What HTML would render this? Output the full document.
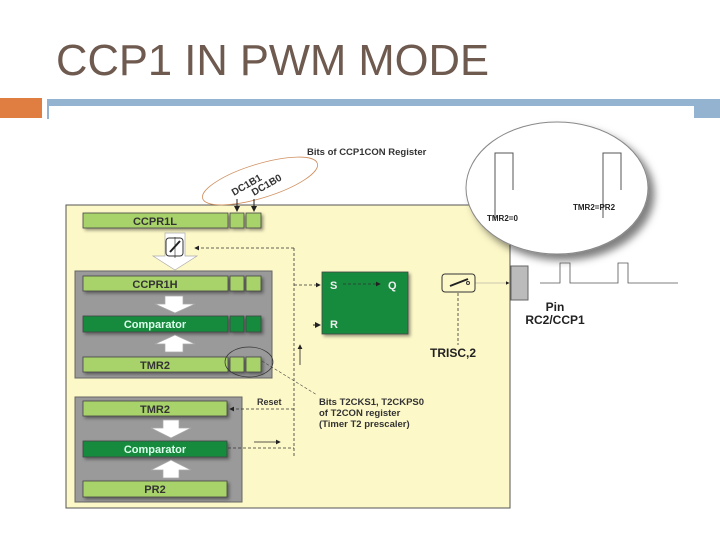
<!DOCTYPE html>
<html><head><style>
body{margin:0;width:720px;height:540px;background:#fff;overflow:hidden;font-family:"Liberation Sans",sans-serif}
</style></head><body>
<svg width="720" height="540" xmlns="http://www.w3.org/2000/svg" font-family="Liberation Sans, sans-serif">
<defs>
<marker id="a" markerWidth="6" markerHeight="6" refX="5" refY="3" orient="auto"><path d="M0,0L6,3L0,6z" fill="#222"/></marker>
<filter id="sh"><feDropShadow dx="2" dy="2" stdDeviation="1.5" flood-color="#000" flood-opacity="0.4"/></filter>
<filter id="sh2"><feDropShadow dx="6" dy="6" stdDeviation="4" flood-color="#000" flood-opacity="0.5"/></filter>
</defs>
<text x="56" y="75" font-size="44" fill="#6f5a50" textLength="433" lengthAdjust="spacingAndGlyphs">CCP1 IN PWM MODE</text>
<rect x="0" y="98" width="42" height="20" fill="#e07e42"/>
<rect x="47" y="99" width="673" height="7" fill="#94b3d0"/>
<rect x="47" y="99" width="2" height="20" fill="#94b3d0"/>
<rect x="694" y="99" width="26" height="19" fill="#94b3d0"/>

<!-- main panel -->
<rect x="66" y="205" width="444" height="303" fill="#fdf8c8" stroke="#555" stroke-width="1"/>
<rect x="75" y="271" width="197" height="107" fill="#9a9a9a" stroke="#666"/>
<rect x="75" y="397" width="167" height="105" fill="#9a9a9a" stroke="#666"/>

<g font-weight="bold" font-size="11" text-anchor="middle">
<g filter="url(#sh)" stroke="#444" stroke-width="0.8">
<rect x="83" y="213" width="145" height="15" fill="#a8d26a"/>
<rect x="230" y="213" width="14" height="15" fill="#a8d26a"/>
<rect x="246" y="213" width="15" height="15" fill="#a8d26a"/>
<rect x="83" y="276" width="145" height="15" fill="#a8d26a"/>
<rect x="230" y="276" width="14" height="15" fill="#a8d26a"/>
<rect x="246" y="276" width="15" height="15" fill="#a8d26a"/>
<rect x="83" y="316" width="145" height="16" fill="#128a3e"/>
<rect x="230" y="316" width="14" height="16" fill="#128a3e"/>
<rect x="246" y="316" width="15" height="16" fill="#128a3e"/>
<rect x="83" y="357" width="145" height="15" fill="#a8d26a"/>
<rect x="230" y="357" width="14" height="15" fill="#a8d26a"/>
<rect x="246" y="357" width="15" height="15" fill="#a8d26a"/>
<rect x="83" y="401" width="144" height="15" fill="#a8d26a"/>
<rect x="83" y="441" width="144" height="16" fill="#128a3e"/>
<rect x="83" y="481" width="144" height="16" fill="#a8d26a"/>
<rect x="322" y="272" width="86" height="62" fill="#128a3e"/>
</g>
<text x="155" y="225" fill="#333">CCPR1L</text>
<text x="155" y="288" fill="#333">CCPR1H</text>
<text x="155" y="328" fill="#dfe">Comparator</text>
<text x="155" y="369" fill="#333">TMR2</text>
<text x="155" y="413" fill="#333">TMR2</text>
<text x="155" y="453" fill="#dfe">Comparator</text>
<text x="155" y="493" fill="#333">PR2</text>
</g>

<!-- white arrows -->
<g fill="#fff" stroke="#aaa" stroke-width="0.7">
<path d="M165,233h20v23h12l-22,14l-22,-14h12z"/>
<path d="M165,296h18v8h12l-20,9l-20,-9h10z"/>
<path d="M165,352h18v-8h12l-20,-9l-20,9h10z"/>
<path d="M163,420h16v8h12l-20,10l-20,-10h12z"/>
<path d="M163,478h16v-8h12l-20,-10l-20,10h12z"/>
</g>
<rect x="166" y="238" width="17" height="18" rx="3" fill="#fff" stroke="#333"/>
<line x1="170" y1="252" x2="180" y2="241" stroke="#222" stroke-width="2"/>
<line x1="175" y1="237" x2="175" y2="258" stroke="#222" stroke-width="0.6"/>

<!-- dashed lines -->
<g stroke="#333" stroke-width="0.8" stroke-dasharray="3,2" fill="none">
<line x1="294" y1="248" x2="195" y2="248" marker-end="url(#a)"/>
<line x1="294" y1="248" x2="294" y2="458"/>
<line x1="294" y1="285" x2="320" y2="285" marker-end="url(#a)"/>
<line x1="343" y1="284" x2="380" y2="284" marker-end="url(#a)"/>
<line x1="294" y1="409" x2="230" y2="409" marker-end="url(#a)"/>
<line x1="228" y1="448" x2="294" y2="448"/>
<line x1="458" y1="288" x2="458" y2="345"/>
</g>
<line x1="300" y1="365" x2="300" y2="345" stroke="#222" stroke-width="0.8" marker-end="url(#a)"/>
<line x1="254" y1="442" x2="280" y2="442" stroke="#222" stroke-width="0.8" marker-end="url(#a)"/>
<line x1="313" y1="325" x2="320" y2="325" stroke="#222" stroke-width="1" marker-end="url(#a)"/>
<line x1="262" y1="361" x2="317" y2="395" stroke="#444" stroke-width="0.6" stroke-dasharray="3,2"/>
<line x1="475" y1="283" x2="509" y2="283" stroke="#999" stroke-width="0.6" marker-end="url(#a)"/>
<ellipse cx="249" cy="362" rx="24" ry="15" fill="none" stroke="#333" stroke-width="0.7"/>

<g font-weight="bold" fill="#eee" font-size="11"><text x="330" y="289">S</text><text x="388" y="289">Q</text><text x="330" y="328">R</text></g>

<rect x="442" y="274" width="33" height="18" rx="3" fill="#fdf8c8" stroke="#333"/>
<line x1="450" y1="286" x2="468" y2="279" stroke="#222" stroke-width="2"/>
<circle cx="468" cy="283" r="1.5" fill="none" stroke="#333"/>
<text x="430" y="357" font-size="12" font-weight="bold" fill="#222">TRISC,2</text>

<text x="257" y="405" font-size="9" font-weight="bold" fill="#333">Reset</text>
<g font-size="9.5" font-weight="bold" fill="#333">
<text x="319" y="405">Bits T2CKS1, T2CKPS0</text>
<text x="319" y="416">of T2CON register</text>
<text x="319" y="427">(Timer T2 prescaler)</text>
</g>

<!-- CCP1CON bits -->
<text x="307" y="155" font-size="9.5" font-weight="bold" fill="#333">Bits of CCP1CON Register</text>
<ellipse cx="260" cy="181" rx="60" ry="17" transform="rotate(-17 260 181)" fill="none" stroke="#d09060" stroke-width="0.8"/>
<text x="234" y="196" font-size="10" font-weight="bold" fill="#333" transform="rotate(-30 234 196)">DC1B1</text>
<text x="254" y="196" font-size="10" font-weight="bold" fill="#333" transform="rotate(-30 254 196)">DC1B0</text>
<line x1="237" y1="199" x2="237" y2="211" stroke="#222" marker-end="url(#a)"/>
<line x1="254" y1="199" x2="254" y2="211" stroke="#222" marker-end="url(#a)"/>

<!-- magnifier -->
<ellipse cx="557" cy="188" rx="91" ry="66" fill="#fff" stroke="#888" filter="url(#sh2)"/>
<g stroke="#555" stroke-width="1" fill="none">
<path d="M495,218V153h18v37"/><path d="M603,218V153h18v37"/>
<line x1="495" y1="193" x2="495" y2="210" stroke-dasharray="2,1"/>
</g>
<text x="487" y="221" font-size="8" font-weight="bold" fill="#222">TMR2=0</text>
<text x="573" y="210" font-size="8" font-weight="bold" fill="#222">TMR2=PR2</text>

<rect x="511" y="266" width="17" height="34" fill="#bbb" stroke="#666"/>
<path d="M540,283h20v-20h10v20h48v-20h10v20h50" fill="none" stroke="#555" stroke-width="0.8"/>
<text x="555" y="311" font-size="12" font-weight="bold" fill="#222" text-anchor="middle">Pin</text>
<text x="555" y="324" font-size="12" font-weight="bold" fill="#222" text-anchor="middle">RC2/CCP1</text>
</svg>
</body></html>
